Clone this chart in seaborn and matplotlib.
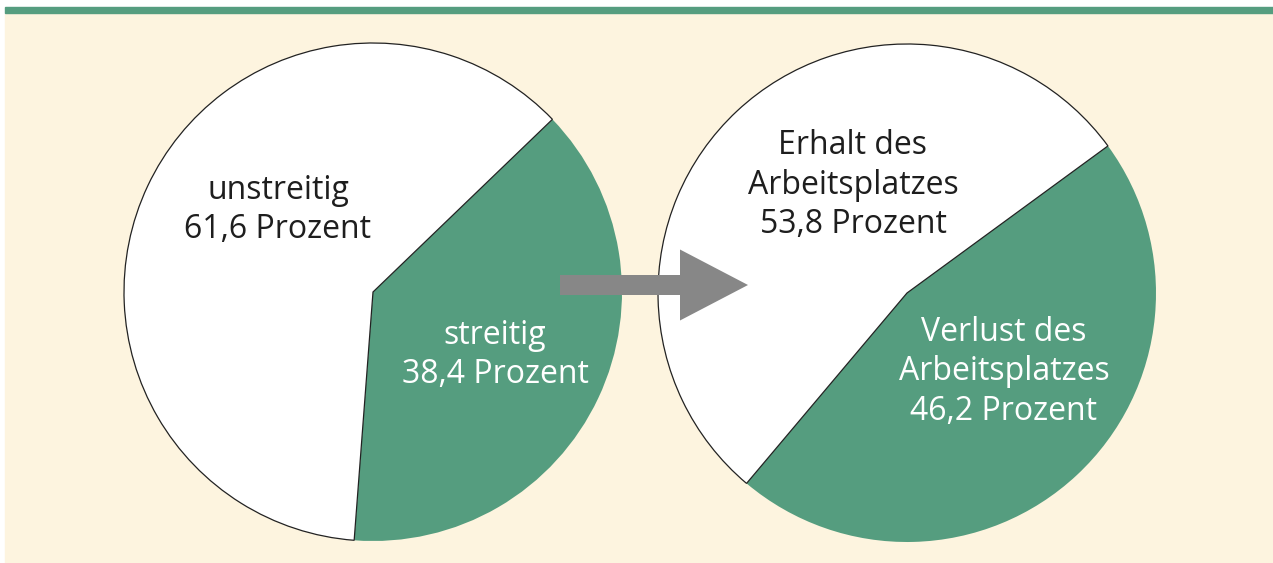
import matplotlib
matplotlib.use("Agg")
import matplotlib.pyplot as plt
import seaborn as sns
from matplotlib.patches import Rectangle, FancyArrow

sns.set_theme(style="white")
plt.rcParams['font.family'] = ['Open Sans', 'DejaVu Sans']

# data
left_labels = ["streitig\n38,4 Prozent", "unstreitig\n61,6 Prozent"]
left_values = [38.4, 61.6]
right_labels = ["Verlust des\nArbeitsplatzes\n46,2 Prozent", "Erhalt des\nArbeitsplatzes\n53,8 Prozent"]
right_values = [46.2, 53.8]

green = "#559d7f"
cream = "#fdf4df"
grey = "#878787"
dark = "#1e1e1e"

W, H = 1273, 563
fig = plt.figure(figsize=(W / 100, H / 100), dpi=100)
fig.patch.set_facecolor("white")
ax = fig.add_axes([0, 0, 1, 1])
ax.set_xlim(0, W)
ax.set_ylim(0, H)
ax.axis("off")

# panel background + green top rule
ax.add_patch(Rectangle((5, 0), W - 5, H - 13, color=cream, zorder=0))
ax.add_patch(Rectangle((5, H - 13), W - 5, 6, color=green, zorder=0))

def draw_pie(values, center, start):
    wedges, _ = ax.pie(values, colors=[green, "white"], startangle=start,
                       counterclock=False, center=center, radius=249,
                       frame=True)
    wedges[0].set_edgecolor("none")
    wedges[1].set_edgecolor("#222222")
    wedges[1].set_linewidth(0.9)
    for w in wedges:
        w.set_zorder(2)
    return wedges

draw_pie(left_values, (373, H - 292), 43.9)
draw_pie(right_values, (907, H - 293), 36.2)
ax.set_xlim(0, W)
ax.set_ylim(0, H)
ax.axis("off")

kw = dict(ha="center", va="center", fontsize=23, linespacing=1.25, zorder=5)
ax.text(278, H - 210, left_labels[1], color=dark, **kw)
ax.text(495, H - 355, left_labels[0], color="white", **kw)
ax.text(853, H - 185, right_labels[1], color=dark, **kw)
ax.text(1004, H - 372, right_labels[0], color="white", **kw)

# arrow between the pies
ax.add_patch(FancyArrow(560, H - 285, 188, 0, width=20, head_width=71,
                        head_length=68, length_includes_head=True,
                        color=grey, lw=0, zorder=4))

plt.savefig("out.png", dpi=100, facecolor=fig.get_facecolor())
